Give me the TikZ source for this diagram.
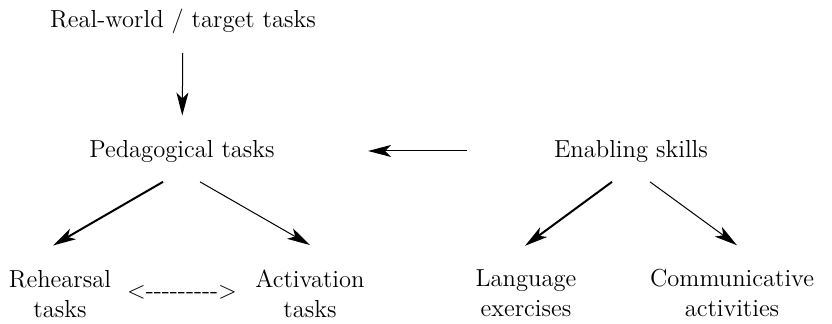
\documentclass[tikz,border=0pt]{standalone}
\usetikzlibrary{arrows.meta}

\tikzset{
  lbl/.style = {inner sep=0pt, align=center, anchor=base},
  arr/.style = {-{Stealth[length=11.5pt,width=6pt,inset=3pt]}, line width=0.5pt},
  thickarr/.style = {arr, line width=1pt}
}

\begin{document}
\begin{tikzpicture}
                [x=0.5pt, y=-0.5pt, font=\fontsize{12.3}{15}\selectfont]
    \useasboundingbox (0,0) rectangle (832,323);

                \node[lbl] (real) at (183,27) {Real-world / target tasks};
                \node[lbl] (ped) at (182,157) {Pedagogical tasks};
                \node[lbl] (enab) at (631,157) {Enabling skills};
                \node[lbl] (reh) at (60,317) {Rehearsal\\tasks};
                \node[lbl] (act) at (310,317) {Activation\\tasks};
                \node[lbl] (lang) at (526,316) {Language\\exercises};
                \node[lbl] (comm) at (732,316) {Communicative\\activities};
                \node[lbl] (link) at (182,298) {<-{}-{}-{}-{}-{}-{}-{}-{}->};

                \draw[arr, shorten <=9.7pt, shorten >=12pt] (real) to (ped);
                \draw[arr, shorten <=43.5pt, shorten >=46.5pt] (enab.west) to (ped.east);
                \draw[thickarr] ([shift={(-19,19.4)}]ped.south) to ([shift={(-7,-24)}]reh.north);
                \draw[arr] ([shift={(18,19.4)}]ped.south) to ([shift={(0,-24)}]act.north);
                \draw[thickarr] ([shift={(-19,19.4)}]enab.south) to ([shift={(-1,-23)}]lang.north);
                \draw[arr] ([shift={(19,19.4)}]enab.south) to ([shift={(5,-23)}]comm.north);
            \end{tikzpicture}
\end{document}
